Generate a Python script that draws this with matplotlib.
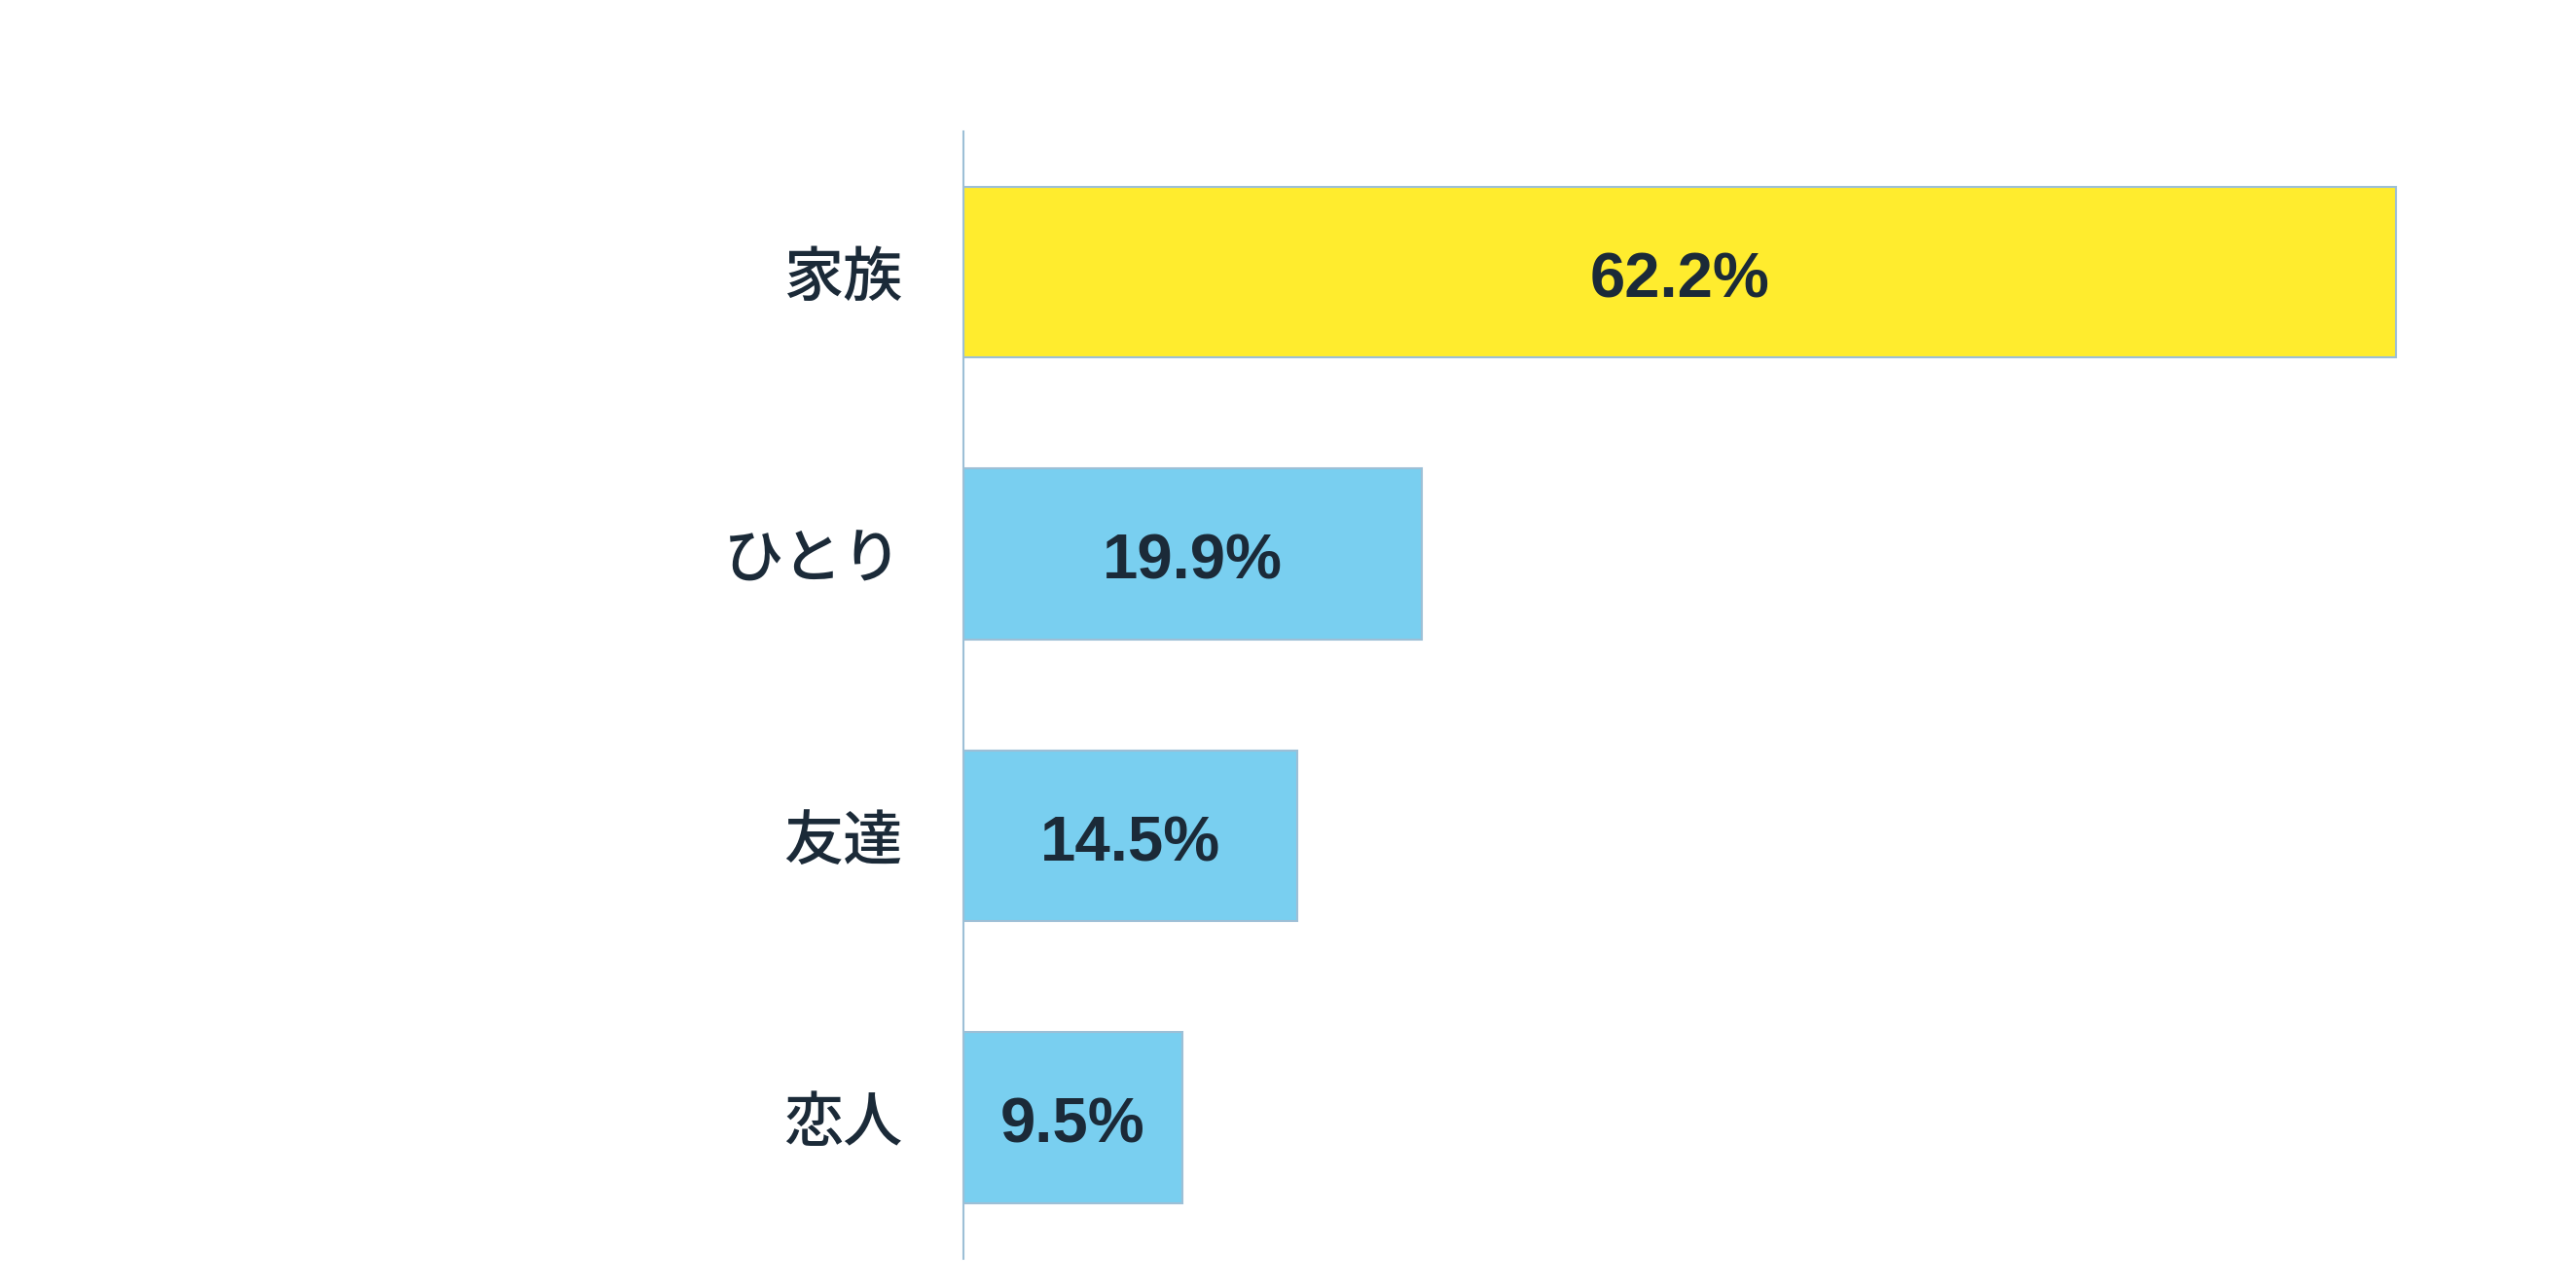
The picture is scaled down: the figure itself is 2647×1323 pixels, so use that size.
import matplotlib
matplotlib.use("Agg")
import matplotlib.pyplot as plt

# data
categories = ["家族", "ひとり", "友達", "恋人"]
values = [62.2, 19.9, 14.5, 9.5]
bar_colors = ["#ffec2e", "#79cff0", "#79cff0", "#79cff0"]

TEXT = "#1b2a38"
EDGE = "#9dbfd6"

fig = plt.figure(figsize=(26.47, 13.23), dpi=100)
ax = fig.add_axes([0.374, 0.023, 0.626, 0.875])

ypos = list(range(len(categories)))
ax.barh(ypos, values, height=0.607, color=bar_colors,
        edgecolor=EDGE, linewidth=1.5)

for y, v in zip(ypos, values):
    # nudge down a bit so the digits sit centred in the bar
    ax.text(v / 2, y + 0.03, f"{v:.1f}%", ha="center", va="center",
            fontsize=47, fontweight="bold", color=TEXT,
            family=["Liberation Sans", "DejaVu Sans"])

ax.set_yticks(ypos)
ax.set_yticklabels(categories, fontsize=44, color=TEXT, fontweight="medium",
                   family=["Noto Sans CJK JP", "DejaVu Sans"])
ax.tick_params(axis="y", length=0, pad=45)
ax.set_xticks([])
ax.set_xlim(0, 70)
ax.set_ylim(3.5, -0.5)

for side in ["top", "right", "bottom"]:
    ax.spines[side].set_visible(False)
ax.spines["left"].set_color(EDGE)
ax.spines["left"].set_linewidth(1.5)

fig.savefig("out.png", dpi=100)
